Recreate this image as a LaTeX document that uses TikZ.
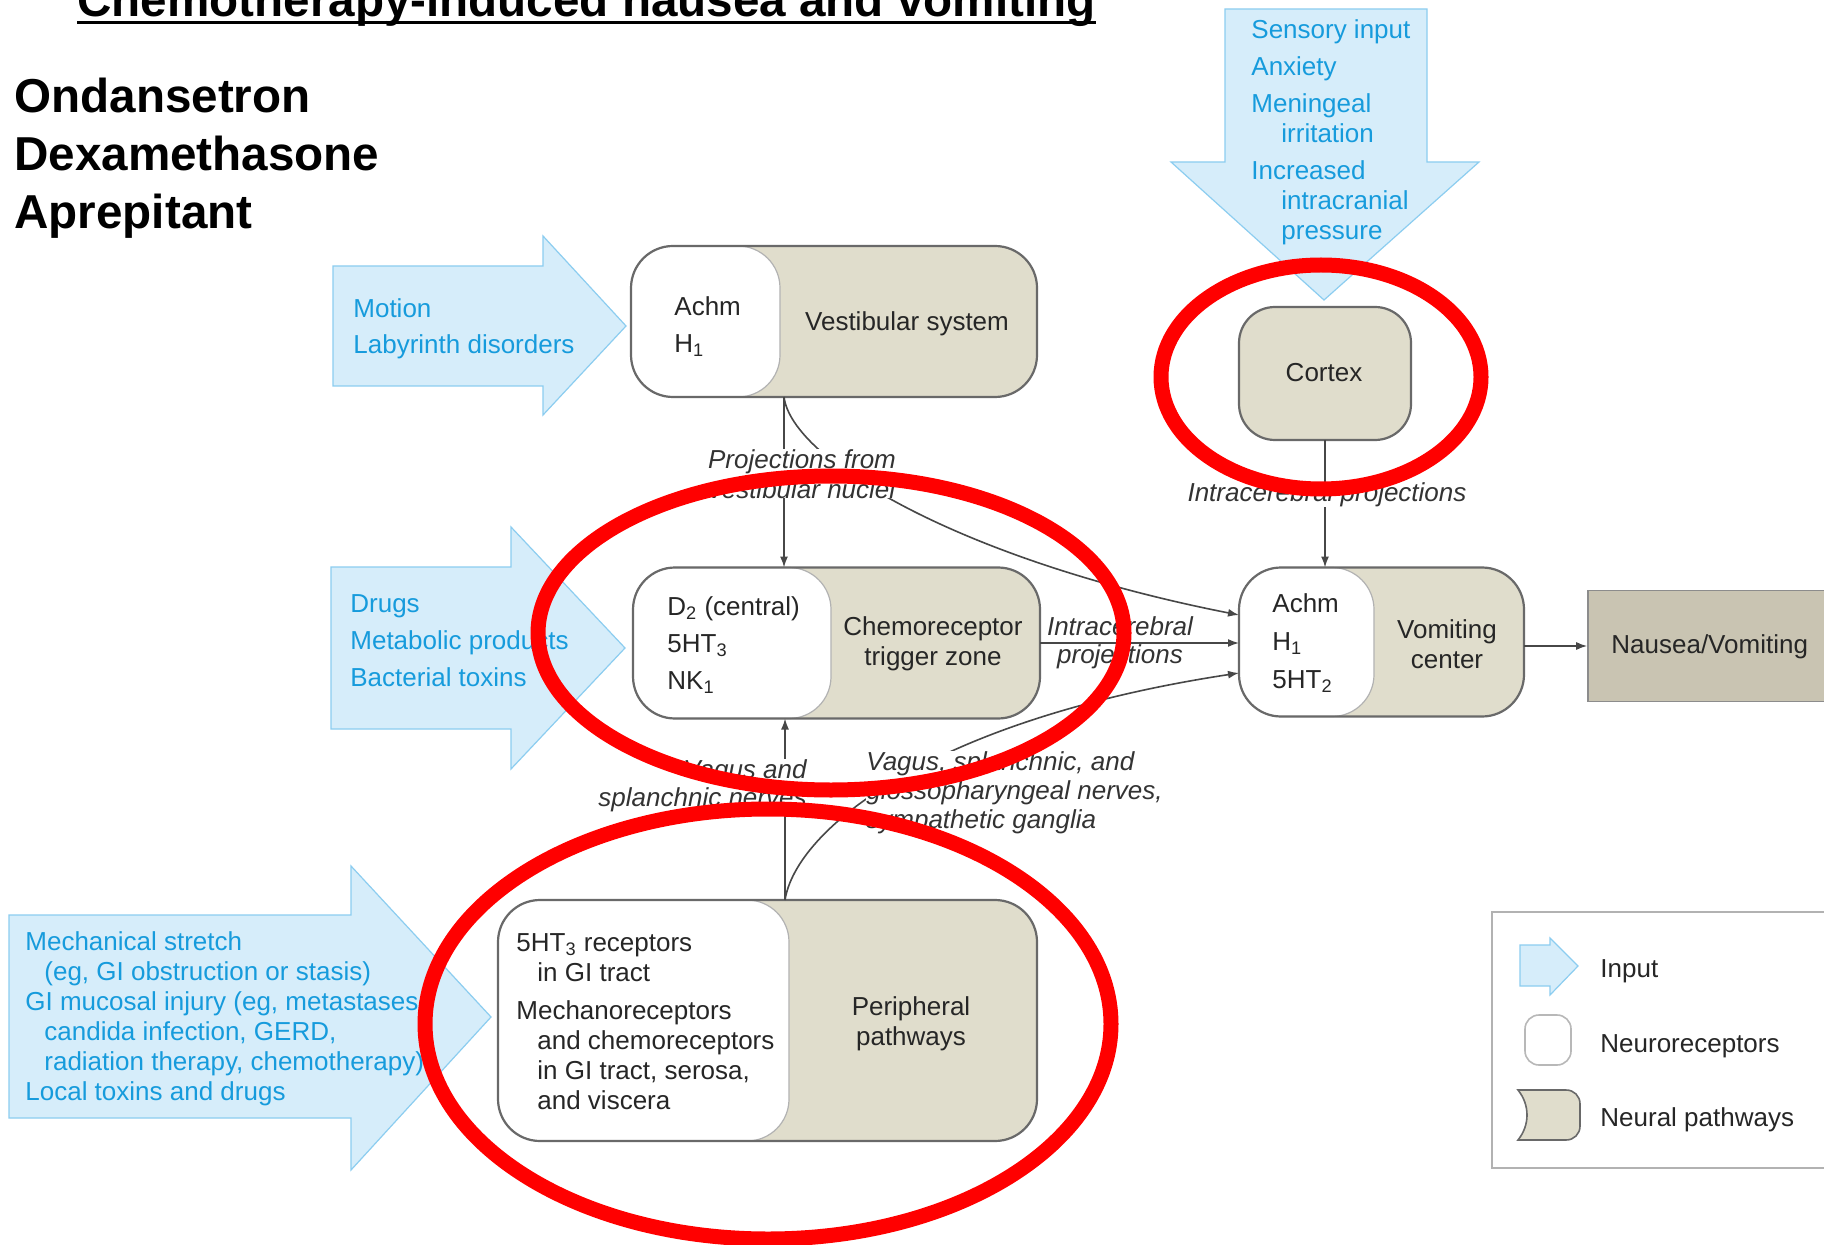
\documentclass[tikz,border=0pt]{standalone}
\usepackage{fontspec}
\setmainfont{Liberation Sans}
\usetikzlibrary{calc,arrows.meta}

\definecolor{pathfill}{RGB}{224,221,204}
\definecolor{nvfill}{RGB}{201,196,178}
\definecolor{inblue}{RGB}{22,155,220}
\definecolor{arrowfill}{RGB}{214,237,250}
\definecolor{arrowedge}{RGB}{140,205,240}
\definecolor{boxgray}{RGB}{105,105,105}
\definecolor{redmark}{RGB}{255,0,0}

\newcommand{\diagfont}{\fontsize{13pt}{15pt}\selectfont}
\newcommand{\headfont}{\fontsize{23.8pt}{29pt}\selectfont\bfseries}

\begin{document}
\begin{tikzpicture}[x=0.5pt, y=-0.5pt,
  pathbox/.style={rectangle, rounded corners=21pt, fill=pathfill, inner sep=0pt, outer sep=0pt},
  recbox/.style={rectangle, rounded corners=21pt, fill=white, draw=black!30, line width=0.6pt, inner sep=0pt, outer sep=0pt, anchor=west},
  boxline/.style={draw=boxgray, line width=1.1pt, rounded corners=21pt},
  conn/.style={draw=black!72, line width=0.8pt, -{Latex[length=5.5pt,width=4pt]}},
  inputarrow/.style={fill=arrowfill, draw=arrowedge, line width=0.6pt, line join=miter},
  txt/.style={font=\diagfont, text=black!85, inner sep=0pt},
  intxt/.style={font=\diagfont, text=inblue, inner sep=0pt},
  lbl/.style={font=\diagfont\itshape, text=black!80, inner sep=0pt},
  cover/.style={fill=white},
  head/.style={font=\headfont, text=black, inner sep=0pt, anchor=base west},
  redring/.style={draw=redmark, line width=7.5pt},
]
% canvas
\fill[white] (0,0) rectangle (1824,1245);
\useasboundingbox (0,0) rectangle (1824,1245);
\clip (0,0) rectangle (1824,1245);

% heading and drug list
\node[head] (title) at (77,17) {Chemotherapy-induced nausea and vomiting};
\draw[line width=1.75pt] ($(title.base west)+(0,5.5)$) -- ($(title.base east)+(0,5.5)$);
\node[head] (drug1) at (14,113) {Ondansetron};
\node[head] (drug2) at (14,171) {Dexamethasone};
\node[head] (drug3) at (14,229) {Aprepitant};

% input arrows
\draw[inputarrow] (333,266) -- (543,266) -- (543,236) -- (626,326) -- (543,415) -- (543,386) -- (333,386) -- cycle;
\draw[inputarrow] (331,567) -- (511,567) -- (511,527) -- (625,648) -- (511,769) -- (511,729) -- (331,729) -- cycle;
\draw[inputarrow] (9,915) -- (351,915) -- (351,866) -- (491,1017) -- (351,1170) -- (351,1118) -- (9,1118) -- cycle;
\draw[inputarrow] (1225,9) -- (1427,9) -- (1427,162) -- (1479,162) -- (1324,300) -- (1171,162) -- (1225,162) -- cycle;

% vestibular system
\node[pathbox, minimum width=203pt, minimum height=75.5pt] (vest) at (834,321.5) {};
\node[recbox, minimum width=74.5pt, minimum height=75.5pt] (vestrec) at (vest.west) {};
\draw[boxline] (vest.north west) rectangle (vest.south east);

% chemoreceptor trigger zone
\node[pathbox, minimum width=203.5pt, minimum height=75.5pt] (ctz) at (836.5,643) {};
\node[recbox, minimum width=99pt, minimum height=75.5pt] (ctzrec) at (ctz.west) {};
\draw[boxline] (ctz.north west) rectangle (ctz.south east);

% vomiting center
\node[pathbox, minimum width=142.5pt, minimum height=74.5pt] (vc) at (1381.5,642) {};
\node[recbox, minimum width=67.5pt, minimum height=74.5pt] (vcrec) at (vc.west) {};
\draw[boxline] (vc.north west) rectangle (vc.south east);

% peripheral pathways
\node[pathbox, minimum width=269.5pt, minimum height=120.5pt] (per) at (767.5,1020.5) {};
\node[recbox, minimum width=145.5pt, minimum height=120.5pt] (perrec) at (per.west) {};
\draw[boxline] (per.north west) rectangle (per.south east);

% cortex
\node[pathbox, rounded corners=18pt, minimum width=86pt, minimum height=66.5pt] (cortex) at (1325,373.5) {};
\draw[boxline, rounded corners=18pt] (cortex.north west) rectangle (cortex.south east);

% outcome
\node[rectangle, fill=nvfill, draw=black!45, line width=0.8pt, minimum width=126pt, minimum height=55.5pt, inner sep=0pt] (nv) at (1714,646) {};

% connectors
\coordinate (vp) at ($(vest.south west)+(153,0)$);
\coordinate (pp) at ($(per.north west)+(287,0)$);
\draw[conn] (vp) -- (vp |- ctz.north);
\draw[conn] (vp) .. controls ($(vp)+(8,63)$) and ($(vc.west)+(-279,-82)$) .. ($(vc.west)+(0,-27)$);
\draw[conn] (ctz.east) -- (ctz.east -| vc.west);
\draw[conn] (pp) -- (pp |- ctz.south);
\draw[conn] (pp) .. controls ($(pp)+(11,-70)$) and ($(vc.west)+(-309,78)$) .. ($(vc.west)+(0,31)$);
\draw[conn] (cortex.south) -- (cortex.south |- vc.north);
\draw[conn] (nv.west -| vc.east) -- (nv.west);

% texts of the boxes
\node[txt, align=left, anchor=north west] (vesttxt) at (674,296) {Achm\\[3.5pt]H\textsubscript{1}};
\node[txt, align=center, anchor=north] (vestname) at (907,311) {Vestibular system};
\node[txt, align=left, anchor=north west] (ctztxt) at (667,596) {D\textsubscript{2} (central)\\[3.5pt]5HT\textsubscript{3}\\[3.5pt]NK\textsubscript{1}};
\node[txt, align=center, anchor=north] (ctzname) at (933,616) {Chemoreceptor\\trigger zone};
\node[txt, align=left, anchor=north west] (vctxt) at (1272,593) {Achm\\[4pt]H\textsubscript{1}\\[4pt]5HT\textsubscript{2}};
\node[txt, align=center, anchor=north] (vcname) at (1447,619) {Vomiting\\center};
\node[txt, align=left, anchor=north west] (pertxt) at (516,933) {5HT\textsubscript{3} receptors\\\hspace*{10.5pt}in GI tract\\[4pt]Mechanoreceptors\\\hspace*{10.5pt}and chemoreceptors\\\hspace*{10.5pt}in GI tract, serosa,\\\hspace*{10.5pt}and viscera};
\node[txt, align=center, anchor=north] (pername) at (911,996) {Peripheral\\pathways};
\node[txt, anchor=base] (cortexname) at (1324,382) {Cortex};
\node[txt, anchor=base west] (nvname) at (1611,653) {Nausea/Vomiting};

% texts of the inputs
\node[intxt, align=left, anchor=north west] (motiontxt) at (353,298) {Motion\\[3pt]Labyrinth disorders};
\node[intxt, align=left, anchor=north west] (drugtxt) at (350,594) {Drugs\\[3.5pt]Metabolic products\\[3.5pt]Bacterial toxins};
\node[intxt, align=left, anchor=north west] (mechtxt) at (25,931) {Mechanical stretch\\\hspace*{9.5pt}(eg, GI obstruction or stasis)\\GI mucosal injury (eg, metastases,\\\hspace*{9.5pt}candida infection, GERD,\\\hspace*{9.5pt}radiation therapy, chemotherapy)\\Local toxins and drugs};
\node[intxt, align=left, anchor=north west] (senstxt) at (1251,19) {Sensory input\\[3.5pt]Anxiety\\[3.5pt]Meningeal\\\hspace*{15pt}irritation\\[3.5pt]Increased\\\hspace*{15pt}intracranial\\\hspace*{15pt}pressure};

% connector labels
\node[lbl, cover, align=center, anchor=north] (vestlbl) at (802,449) {Projections from\\vestibular nuclei};
\node[lbl, align=center, anchor=north] (ctzlbl) at (1120,616) {Intracerebral\\[-1pt]projections};
\node[lbl, cover, anchor=base] (cortexlbl) at (1327,502) {Intracerebral projections};
\node[lbl, cover, align=right, anchor=north east] (vaguslbl) at (807,759) {Vagus and\\[-1pt]splanchnic nerves};
\node[lbl, cover, align=left, anchor=north west] (nerveslbl) at (866,751) {Vagus, splanchnic, and\\[-0.5pt]glossopharyngeal nerves,\\[-0.5pt]sympathetic ganglia};

% legend
\draw[draw=black!30, line width=1pt] (1492,912) rectangle (1840,1168);
\draw[inputarrow] (1520,945) -- (1550,945) -- (1550,938) -- (1578,966) -- (1550,995) -- (1550,986) -- (1520,986) -- cycle;
\draw[fill=white, draw=black!28, line width=0.8pt, rounded corners=7pt] (1525,1015) rectangle (1571,1065);
\draw[fill=pathfill, draw=boxgray, line width=0.8pt] (1518,1090) -- (1566,1090) .. controls (1574,1090) and (1580,1096) .. (1580,1104) -- (1580,1126) .. controls (1580,1134) and (1574,1140) .. (1566,1140) -- (1518,1140) .. controls (1530,1125) and (1530,1105) .. (1518,1090) -- cycle;
\node[txt, anchor=base west] (leginput) at (1600,977) {Input};
\node[txt, anchor=base west] (legrec) at (1600,1052) {Neuroreceptors};
\node[txt, anchor=base west] (legpath) at (1600,1126) {Neural pathways};

% red highlight rings
\draw[redring] (1321,377) ellipse [x radius=160, y radius=112];
\draw[redring] (831,633) ellipse [x radius=293, y radius=157];
\draw[redring] (768,1024) ellipse [x radius=343, y radius=215];
\end{tikzpicture}
\end{document}
